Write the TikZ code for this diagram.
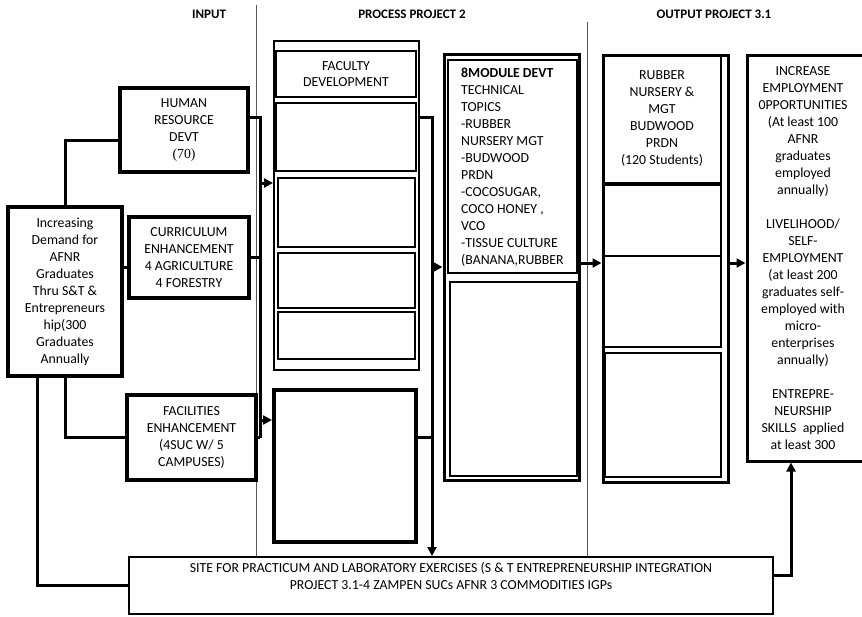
\documentclass[tikz,border=0pt]{standalone}
\usepackage{fontspec}
\setmainfont{Carlito}
\newfontfamily\timesf{Liberation Serif}
\usetikzlibrary{arrows.meta,calc}
\tikzset{
  thickbox/.style={draw, line width=3.5pt, inner sep=0pt},
  medbox/.style={draw, line width=2pt, inner sep=0pt},
  thinbox/.style={draw, line width=1.4pt, inner sep=0pt},
  lbl/.style={font=\fontsize{13.8}{17}\selectfont, align=center},
  hdr/.style={font=\bfseries\fontsize{13}{16}\selectfont},
  conn/.style={line width=3pt},
  arr/.style={line width=3pt, -{Triangle[length=9pt,width=9pt]}},
  divider/.style={line width=1pt, black!65}
}
\begin{document}
\begin{tikzpicture}[x=1pt,y=-1pt]
\clip (0,0) rectangle (862,616);
\fill[white] (0,0) rectangle (862,616);

% headers
\node[hdr] (hin) at (209,14) {INPUT};
\node[hdr] (hproc) at (412,14) {PROCESS PROJECT 2};
\node[hdr] (hout) at (714,14) {OUTPUT PROJECT 3.1};

% dividers
\draw[divider] (256,5) -- (256,557);
\draw[divider] (587,22) -- (587,557);

% input column
\node[thickbox, lbl, minimum width=114pt, minimum height=169pt] (inc) at (65,291.5)
  {Increasing\\Demand for\\AFNR\\Graduates\\Thru S\&T \&\\Entrepreneurs\\hip(300\\Graduates\\Annually};
\node[thickbox, line width=4pt, lbl, minimum width=128pt, minimum height=84pt] (hr) at (184,130)
  {HUMAN\\RESOURCE\\DEVT\\{\timesf (70)}};
\node[thickbox, line width=4pt, lbl, minimum width=120pt, minimum height=81pt] (cur) at (189,257.5)
  {CURRICULUM\\ENHANCEMENT\\4 AGRICULTURE\\4 FORESTRY};
\node[thickbox, line width=4pt, lbl, minimum width=129pt, minimum height=85pt] (fac) at (191.5,437.5)
  {FACILITIES\\ENHANCEMENT\\(4SUC W/ 5\\CAMPUSES)};
\node[medbox, lbl, minimum width=644pt, minimum height=57pt] (site) at (451,585.5)
  {SITE FOR PRACTICUM AND LABORATORY EXERCISES (S \& T ENTREPRENEURSHIP INTEGRATION\\PROJECT 3.1-4 ZAMPEN SUCs AFNR 3 COMMODITIES IGPs\\[2pt]};

% process column 1
\node[medbox, minimum width=145pt, minimum height=329pt] (p1) at (346.5,205.5) {};
\node[thinbox, lbl, font=\fontsize{13.8}{16}\selectfont, minimum width=140pt, minimum height=46pt] (p1a) at (346,74) {FACULTY\\DEVELOPMENT};
\node[thinbox, minimum width=140pt, minimum height=68pt] (p1b) at (346,137) {};
\node[thinbox, minimum width=137pt, minimum height=69pt] (p1c) at (346.5,212.5) {};
\node[thinbox, minimum width=137pt, minimum height=55pt] (p1d) at (346.5,280.5) {};
\node[thinbox, minimum width=137pt, minimum height=47pt] (p1e) at (346.5,335.5) {};
\node[thickbox, line width=4pt, minimum width=142pt, minimum height=152pt] (plow) at (345,466) {};

% process column 2
\node[thickbox, line width=3pt, minimum width=135pt, minimum height=426pt] (m) at (511.5,267) {};
\node[thinbox, minimum width=129pt, minimum height=213pt] (mt) at (512.5,166.5) {};
\node[thinbox, minimum width=127pt, minimum height=194pt] (ml) at (513.5,379) {};
\node[lbl, align=left, anchor=west, inner sep=0pt] (mtxt) at (461,167)
  {\textbf{8MODULE DEVT}\\TECHNICAL\\TOPICS\\-RUBBER\\NURSERY MGT\\-BUDWOOD\\PRDN\\-COCOSUGAR,\\COCO HONEY ,\\VCO\\-TISSUE CULTURE\\(BANANA,RUBBER};

% output column
\node[thickbox, line width=3pt, minimum width=125pt, minimum height=427pt] (oc) at (665.5,268.5) {};
\node[thinbox, lbl, minimum width=118pt, minimum height=128pt] (oca) at (662,119)
  {RUBBER\\NURSERY \&\\MGT\\BUDWOOD\\PRDN\\(120 Students)};
\node[thinbox, minimum width=118pt, minimum height=71pt] (ocb) at (662,220.5) {};
\node[thinbox, minimum width=118pt, minimum height=91pt] (occ) at (662,301.5) {};
\node[thinbox, minimum width=116pt, minimum height=124pt] (ocd) at (663,415) {};

% result box
\node[thickbox, line width=3pt, minimum width=121pt, minimum height=406pt] (rb) at (807.5,258) {};
\node[lbl, inner sep=0pt] (rbtxt) at (803,258.5)
  {INCREASE\\EMPLOYMENT\\0PPORTUNITIES\\(At least 100\\AFNR\\graduates\\employed\\annually)\\[17pt]LIVELIHOOD/\\SELF-\\EMPLOYMENT\\(at least 200\\graduates self-\\employed with\\micro-\\enterprises\\annually)\\[17pt]ENTREPRE-\\NEURSHIP\\SKILLS~~applied\\at least 300};

% connectors
\draw[conn] (inc.north) |- ([yshift=-10pt]hr.west);
\path ([yshift=-9.5pt]cur.west) coordinate (curin);
\draw[conn] (inc.east |- curin) -- (curin);
\draw[conn] (inc.south) |- (fac.west);
\draw[conn] ([xshift=-28pt]inc.south) |- (site.west);

\coordinate (busL) at (260,0);
\draw[conn] ([yshift=13pt]hr.east) -| (busL |- fac.east);
\draw[conn] (cur.east) -- (busL |- cur.east);
\draw[conn] (fac.east) -- (busL |- fac.east);
\path ([yshift=22.5pt]p1.west) coordinate (p1in);
\draw[arr] (busL |- p1in) -- (p1in);
\path ([yshift=46pt]plow.west) coordinate (plowin);
\draw[arr] (busL |- plowin) -- (plowin);

\coordinate (busR) at (432,0);
\path ([yshift=20pt]p1b.east) coordinate (p1out);
\draw[arr] (p1.east |- p1out) -| (busR |- site.north);
\path ([yshift=29pt]plow.east) coordinate (plowout);
\draw[conn] (plowout) -- (busR |- plowout);
\draw[arr] (busR |- m.west) -- (m.west);

\path ([yshift=4pt]m.east) coordinate (mout);
\draw[arr] (mout) -- (oc.west |- mout);
\draw[arr] (oc.east |- mout) -- (rb.west |- mout);

\path ([yshift=10.5pt]site.east) coordinate (siteout);
\draw[arr] (siteout) -| ([xshift=-16.5pt]rb.south);
\end{tikzpicture}
\end{document}
